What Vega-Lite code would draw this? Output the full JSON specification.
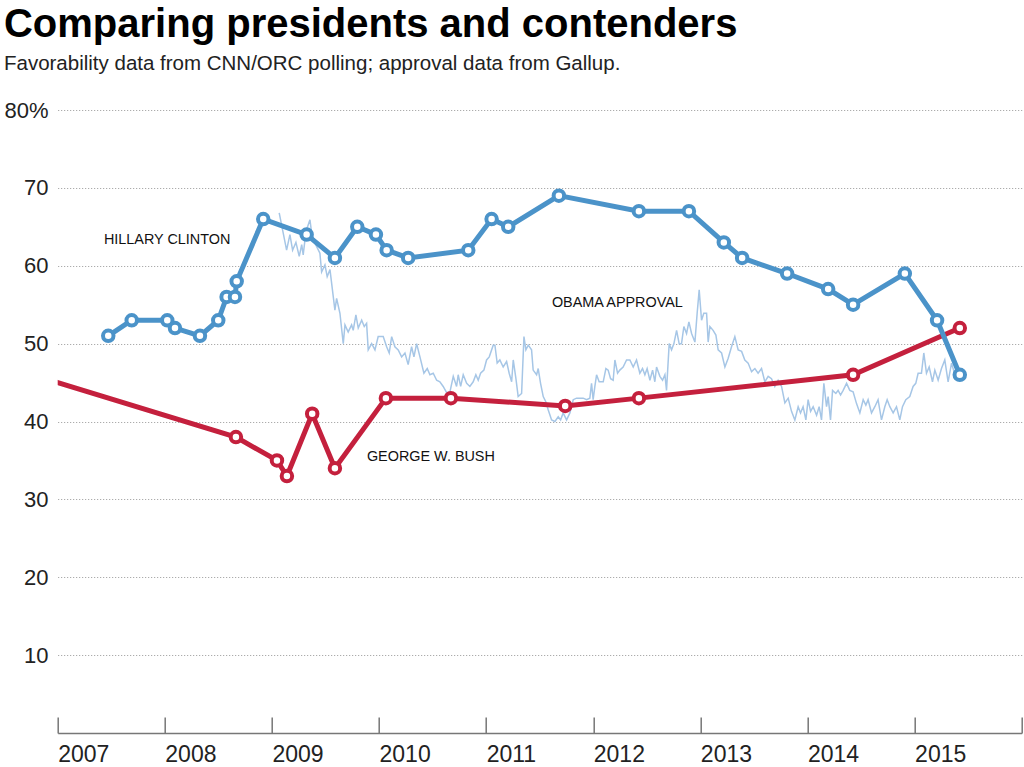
{
  "$schema": "https://vega.github.io/schema/vega-lite/v6.json",
  "width": 964,
  "height": 623,
  "autosize": {"type": "none"},
  "padding": {"left": 57.7, "top": 110, "right": 2.3, "bottom": 34},
  "background": "white",
  "title": {
    "text": "Comparing presidents and contenders",
    "subtitle": "Favorability data from CNN/ORC polling; approval data from Gallup.",
    "anchor": "start",
    "frame": "bounds",
    "font": "Liberation Sans",
    "fontSize": 40,
    "fontWeight": "bold",
    "color": "#000000",
    "subtitleFont": "Liberation Sans",
    "subtitleFontSize": 20.5,
    "subtitleColor": "#222222",
    "offset": 25,
    "subtitlePadding": 9
  },
  "config": {
    "view": {"stroke": null},
    "axis": {"labelFont": "Liberation Sans", "labelColor": "#222222"}
  },
  "datasets": {
    "obama": [
      {"t": 2009.068, "v": 66.8}, {"t": 2009.137, "v": 62}, {"t": 2009.168, "v": 64}, {"t": 2009.193, "v": 62},
      {"t": 2009.224, "v": 63}, {"t": 2009.255, "v": 61.2}, {"t": 2009.278, "v": 62.7}, {"t": 2009.292, "v": 61.4},
      {"t": 2009.318, "v": 64.4}, {"t": 2009.355, "v": 65.9}, {"t": 2009.371, "v": 64.2}, {"t": 2009.402, "v": 62.9},
      {"t": 2009.448, "v": 61.6}, {"t": 2009.464, "v": 59.2}, {"t": 2009.495, "v": 60.1}, {"t": 2009.516, "v": 58.6},
      {"t": 2009.542, "v": 59.5}, {"t": 2009.588, "v": 54.3}, {"t": 2009.604, "v": 55.8}, {"t": 2009.635, "v": 53.9},
      {"t": 2009.666, "v": 50}, {"t": 2009.682, "v": 52.4}, {"t": 2009.712, "v": 51.5}, {"t": 2009.744, "v": 52.4},
      {"t": 2009.759, "v": 51.7}, {"t": 2009.784, "v": 53.7}, {"t": 2009.806, "v": 52}, {"t": 2009.838, "v": 53},
      {"t": 2009.862, "v": 52.2}, {"t": 2009.884, "v": 52.6}, {"t": 2009.899, "v": 49.2}, {"t": 2009.931, "v": 50},
      {"t": 2009.962, "v": 49.2}, {"t": 2009.992, "v": 50.9}, {"t": 2010.039, "v": 50.9}, {"t": 2010.071, "v": 49.6},
      {"t": 2010.095, "v": 48.8}, {"t": 2010.118, "v": 50.9}, {"t": 2010.148, "v": 49.6}, {"t": 2010.179, "v": 49.2},
      {"t": 2010.211, "v": 48.3}, {"t": 2010.242, "v": 48.8}, {"t": 2010.272, "v": 47.3}, {"t": 2010.304, "v": 49.6},
      {"t": 2010.326, "v": 48.3}, {"t": 2010.351, "v": 50}, {"t": 2010.382, "v": 48.3}, {"t": 2010.419, "v": 46.2},
      {"t": 2010.45, "v": 46.8}, {"t": 2010.475, "v": 46}, {"t": 2010.506, "v": 46.2}, {"t": 2010.538, "v": 45.3},
      {"t": 2010.568, "v": 45.1}, {"t": 2010.599, "v": 44.5}, {"t": 2010.631, "v": 43.7}, {"t": 2010.662, "v": 43.8},
      {"t": 2010.693, "v": 45.8}, {"t": 2010.724, "v": 44.5}, {"t": 2010.739, "v": 46}, {"t": 2010.762, "v": 44.5},
      {"t": 2010.786, "v": 46}, {"t": 2010.818, "v": 44.9}, {"t": 2010.848, "v": 44.5}, {"t": 2010.879, "v": 45.1},
      {"t": 2010.904, "v": 46}, {"t": 2010.926, "v": 45.3}, {"t": 2010.948, "v": 46.2}, {"t": 2010.979, "v": 46.6},
      {"t": 2011.004, "v": 47.9}, {"t": 2011.029, "v": 48.3}, {"t": 2011.066, "v": 49.8}, {"t": 2011.082, "v": 49.8},
      {"t": 2011.103, "v": 47.5}, {"t": 2011.128, "v": 47.9}, {"t": 2011.159, "v": 47}, {"t": 2011.191, "v": 47.7},
      {"t": 2011.215, "v": 46.2}, {"t": 2011.238, "v": 45.1}, {"t": 2011.253, "v": 47.9}, {"t": 2011.278, "v": 45.5},
      {"t": 2011.299, "v": 43.2}, {"t": 2011.331, "v": 43.6}, {"t": 2011.353, "v": 50.9}, {"t": 2011.371, "v": 49.2},
      {"t": 2011.393, "v": 49.8}, {"t": 2011.424, "v": 49.2}, {"t": 2011.439, "v": 46.6}, {"t": 2011.471, "v": 46},
      {"t": 2011.486, "v": 46.8}, {"t": 2011.508, "v": 44.9}, {"t": 2011.533, "v": 43.2}, {"t": 2011.558, "v": 42.5},
      {"t": 2011.579, "v": 41.5}, {"t": 2011.611, "v": 40.2}, {"t": 2011.642, "v": 40}, {"t": 2011.673, "v": 40.6},
      {"t": 2011.695, "v": 40.2}, {"t": 2011.719, "v": 41.1}, {"t": 2011.751, "v": 40.2}, {"t": 2011.782, "v": 41.1},
      {"t": 2011.813, "v": 42.8}, {"t": 2011.844, "v": 43}, {"t": 2011.906, "v": 43}, {"t": 2011.938, "v": 42.8},
      {"t": 2011.968, "v": 43}, {"t": 2011.984, "v": 44.9}, {"t": 2011.999, "v": 42.8}, {"t": 2012.015, "v": 44.5},
      {"t": 2012.031, "v": 46}, {"t": 2012.055, "v": 45.1}, {"t": 2012.093, "v": 45.1}, {"t": 2012.118, "v": 46.8},
      {"t": 2012.139, "v": 46.6}, {"t": 2012.162, "v": 45.5}, {"t": 2012.186, "v": 45.3}, {"t": 2012.202, "v": 47.9},
      {"t": 2012.227, "v": 46.2}, {"t": 2012.248, "v": 46.6}, {"t": 2012.279, "v": 47}, {"t": 2012.311, "v": 47.9},
      {"t": 2012.342, "v": 47.9}, {"t": 2012.373, "v": 47}, {"t": 2012.404, "v": 47.9}, {"t": 2012.435, "v": 46.2},
      {"t": 2012.46, "v": 46.8}, {"t": 2012.482, "v": 46}, {"t": 2012.503, "v": 46.8}, {"t": 2012.529, "v": 45.3},
      {"t": 2012.554, "v": 46.6}, {"t": 2012.575, "v": 45.1}, {"t": 2012.591, "v": 47}, {"t": 2012.622, "v": 45.8},
      {"t": 2012.647, "v": 45.3}, {"t": 2012.669, "v": 46}, {"t": 2012.684, "v": 44}, {"t": 2012.709, "v": 50},
      {"t": 2012.731, "v": 49.2}, {"t": 2012.753, "v": 50}, {"t": 2012.778, "v": 51.7}, {"t": 2012.802, "v": 50},
      {"t": 2012.824, "v": 50}, {"t": 2012.846, "v": 52.2}, {"t": 2012.871, "v": 51.3}, {"t": 2012.893, "v": 52.8},
      {"t": 2012.918, "v": 51.3}, {"t": 2012.949, "v": 50.2}, {"t": 2012.97, "v": 53.9}, {"t": 2012.989, "v": 56.9},
      {"t": 2013.011, "v": 53}, {"t": 2013.032, "v": 53.9}, {"t": 2013.058, "v": 53.9}, {"t": 2013.073, "v": 50.2},
      {"t": 2013.089, "v": 52.2}, {"t": 2013.119, "v": 51.7}, {"t": 2013.145, "v": 51.1}, {"t": 2013.166, "v": 49.2},
      {"t": 2013.198, "v": 48.8}, {"t": 2013.229, "v": 47}, {"t": 2013.259, "v": 48.1}, {"t": 2013.291, "v": 49.6},
      {"t": 2013.322, "v": 50.9}, {"t": 2013.353, "v": 49.2}, {"t": 2013.385, "v": 49}, {"t": 2013.415, "v": 47.9},
      {"t": 2013.446, "v": 47.5}, {"t": 2013.478, "v": 46.4}, {"t": 2013.509, "v": 46.8}, {"t": 2013.539, "v": 46.2},
      {"t": 2013.571, "v": 46.8}, {"t": 2013.602, "v": 45.1}, {"t": 2013.633, "v": 45.8}, {"t": 2013.664, "v": 45.5},
      {"t": 2013.695, "v": 44.5}, {"t": 2013.726, "v": 45.3}, {"t": 2013.758, "v": 44.5}, {"t": 2013.789, "v": 42.4},
      {"t": 2013.82, "v": 43}, {"t": 2013.851, "v": 41.3}, {"t": 2013.882, "v": 40.2}, {"t": 2013.913, "v": 41.9},
      {"t": 2013.935, "v": 41.1}, {"t": 2013.959, "v": 41.9}, {"t": 2013.985, "v": 40.2}, {"t": 2014.006, "v": 42.8},
      {"t": 2014.029, "v": 41.3}, {"t": 2014.053, "v": 41.9}, {"t": 2014.085, "v": 40.8}, {"t": 2014.109, "v": 41.9},
      {"t": 2014.131, "v": 40.2}, {"t": 2014.153, "v": 44.9}, {"t": 2014.178, "v": 41.9}, {"t": 2014.193, "v": 43.2},
      {"t": 2014.215, "v": 40.2}, {"t": 2014.234, "v": 44}, {"t": 2014.265, "v": 43.6}, {"t": 2014.286, "v": 44},
      {"t": 2014.309, "v": 43.4}, {"t": 2014.333, "v": 44}, {"t": 2014.365, "v": 44.9}, {"t": 2014.395, "v": 44},
      {"t": 2014.426, "v": 43.8}, {"t": 2014.458, "v": 42.3}, {"t": 2014.489, "v": 41.1}, {"t": 2014.52, "v": 42.8},
      {"t": 2014.545, "v": 42.1}, {"t": 2014.566, "v": 42.8}, {"t": 2014.598, "v": 41.1}, {"t": 2014.629, "v": 41.9},
      {"t": 2014.659, "v": 42.8}, {"t": 2014.691, "v": 40.2}, {"t": 2014.722, "v": 41.9}, {"t": 2014.744, "v": 42.8},
      {"t": 2014.769, "v": 41.9}, {"t": 2014.8, "v": 41.1}, {"t": 2014.831, "v": 41.9}, {"t": 2014.862, "v": 40.2},
      {"t": 2014.887, "v": 41.9}, {"t": 2014.918, "v": 42.8}, {"t": 2014.955, "v": 43.2}, {"t": 2014.986, "v": 44.5},
      {"t": 2015.011, "v": 44.9}, {"t": 2015.033, "v": 46.2}, {"t": 2015.064, "v": 46.2}, {"t": 2015.086, "v": 48.8},
      {"t": 2015.111, "v": 46.2}, {"t": 2015.136, "v": 47}, {"t": 2015.167, "v": 45.1}, {"t": 2015.189, "v": 46.6},
      {"t": 2015.22, "v": 45.3}, {"t": 2015.251, "v": 46.8}, {"t": 2015.282, "v": 47.9}, {"t": 2015.313, "v": 45.1},
      {"t": 2015.345, "v": 47.5}, {"t": 2015.372, "v": 46.2}
    ],
    "clinton": [
      {"t": 2007.472, "v": 51}, {"t": 2007.691, "v": 53}, {"t": 2008.023, "v": 53}, {"t": 2008.095, "v": 52},
      {"t": 2008.328, "v": 51}, {"t": 2008.499, "v": 53}, {"t": 2008.577, "v": 56}, {"t": 2008.655, "v": 56},
      {"t": 2008.671, "v": 58}, {"t": 2008.919, "v": 66}, {"t": 2009.324, "v": 64}, {"t": 2009.588, "v": 61},
      {"t": 2009.797, "v": 65}, {"t": 2009.971, "v": 64}, {"t": 2010.071, "v": 62}, {"t": 2010.272, "v": 61},
      {"t": 2010.833, "v": 62}, {"t": 2011.051, "v": 66}, {"t": 2011.206, "v": 65}, {"t": 2011.679, "v": 69},
      {"t": 2012.426, "v": 67}, {"t": 2012.893, "v": 67}, {"t": 2013.219, "v": 63}, {"t": 2013.39, "v": 61},
      {"t": 2013.81, "v": 59}, {"t": 2014.193, "v": 57}, {"t": 2014.426, "v": 55}, {"t": 2014.909, "v": 59},
      {"t": 2015.21, "v": 53}, {"t": 2015.422, "v": 46}
    ],
    "bush": [
      {"t": 2006.45, "v": 47.3, "dot": false},
      {"t": 2008.664, "v": 38, "dot": true}, {"t": 2009.047, "v": 35, "dot": true}, {"t": 2009.14, "v": 33, "dot": true},
      {"t": 2009.376, "v": 41, "dot": true}, {"t": 2009.588, "v": 34, "dot": true}, {"t": 2010.064, "v": 43, "dot": true},
      {"t": 2010.671, "v": 43, "dot": true}, {"t": 2011.738, "v": 42, "dot": true}, {"t": 2012.426, "v": 43, "dot": true},
      {"t": 2014.426, "v": 46, "dot": true}, {"t": 2015.422, "v": 52, "dot": true}
    ],
    "labels": [
      {"t": 2007.432, "v": 63.3, "label": "HILLARY CLINTON"},
      {"t": 2011.614, "v": 55.2, "label": "OBAMA APPROVAL"},
      {"t": 2009.887, "v": 35.4, "label": "GEORGE W. BUSH"}
    ]
  },
  "encoding": {
    "x": {
      "field": "t",
      "type": "quantitative",
      "scale": {"domain": [2007, 2016], "nice": false, "zero": false},
      "axis": {
        "values": [2007, 2008, 2009, 2010, 2011, 2012, 2013, 2014, 2015, 2016],
        "format": "d",
        "labelExpr": "datum.value == 2016 ? '' : datum.label",
        "title": null,
        "grid": false,
        "tickSize": -16,
        "tickColor": "#777777",
        "tickWidth": 1.5,
        "domainColor": "#777777",
        "domainWidth": 1.5,
        "labelAlign": "left",
        "labelBaseline": "top",
        "labelPadding": 26,
        "labelFontSize": 23,
        "labelFlush": false,
        "labelOverlap": false
      }
    },
    "y": {
      "field": "v",
      "type": "quantitative",
      "scale": {"domain": [0, 80], "nice": false},
      "axis": {
        "values": [10, 20, 30, 40, 50, 60, 70, 80],
        "labelExpr": "datum.value == 80 ? '80%' : datum.label",
        "title": null,
        "domain": false,
        "ticks": false,
        "tickSize": 0,
        "labelPadding": 9.7,
        "labelFontSize": 22,
        "grid": true,
        "gridColor": "#999999",
        "gridDash": [1, 2],
        "gridWidth": 1
      }
    }
  },
  "layer": [
    {
      "data": {"name": "obama"},
      "mark": {"type": "line", "color": "#a6c6e6", "strokeWidth": 1.5}
    },
    {
      "data": {"name": "bush"},
      "mark": {"type": "line", "color": "#c4203d", "strokeWidth": 5, "clip": true}
    },
    {
      "data": {"name": "bush"},
      "transform": [{"filter": "datum.dot"}],
      "mark": {"type": "point", "filled": true, "fill": "white", "stroke": "#c4203d", "strokeWidth": 4, "size": 110, "opacity": 1}
    },
    {
      "data": {"name": "clinton"},
      "mark": {"type": "line", "color": "#4b93c9", "strokeWidth": 5}
    },
    {
      "data": {"name": "clinton"},
      "mark": {"type": "point", "filled": true, "fill": "white", "stroke": "#4b93c9", "strokeWidth": 4, "size": 110, "opacity": 1}
    },
    {
      "data": {"name": "labels"},
      "mark": {"type": "text", "align": "left", "baseline": "middle", "font": "Liberation Sans", "fontSize": 14.4, "color": "#111111"},
      "encoding": {"text": {"field": "label"}}
    }
  ]
}
